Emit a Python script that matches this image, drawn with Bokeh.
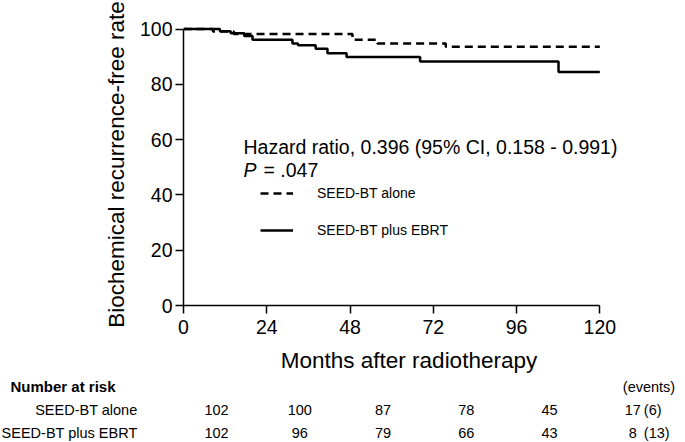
from bokeh.plotting import figure
from bokeh.models import Range1d, FixedTicker, Label, Legend, LegendItem, ColumnDataSource
from bokeh.layouts import column
from bokeh.core.properties import value
from bokeh.embed import file_html
from bokeh.resources import INLINE

# ---- data ----
months_alone = [0, 8.5, 14.5, 48.7, 55.9, 75.6, 120]
surv_alone = [100, 99.1, 98.2, 96.1, 94.8, 93.6, 93.6]
months_ebrt = [0, 10.5, 13.6, 17.5, 19.9, 31.4, 33.0, 38.1, 41.5, 47.0, 68.2, 108.1, 120]
surv_ebrt = [100, 99.2, 98.5, 97.5, 96.1, 94.8, 94.1, 92.9, 91.2, 89.9, 88.3, 84.5, 84.5]

x_ticks = [0, 24, 48, 72, 96, 120]
y_ticks = [0, 20, 40, 60, 80, 100]

risk_times = [0, 24, 48, 72, 96, 120]
risk_alone = [102, 100, 87, 78, 45, 17]
risk_ebrt = [102, 96, 79, 66, 43, 8]
events_alone = "(6)"
events_ebrt = "(13)"
group_names = ["SEED-BT alone", "SEED-BT plus EBRT"]

FONT = "Liberation Sans"

# ---- layout constants ----
W = 685
LEFT, RIGHT, TOP = 183, 51, 23
FRAME_H = 282
MAIN_H = 378
TABLE_H = 442 - MAIN_H
X_END = 130
PXM = (W - LEFT - RIGHT) / X_END  # pixels per month

p = figure(width=W, height=MAIN_H, output_backend="svg", toolbar_location=None,
           x_range=Range1d(0, X_END), y_range=Range1d(0, 102),
           min_border_left=LEFT, min_border_right=RIGHT, min_border_top=TOP,
           min_border_bottom=MAIN_H - TOP - FRAME_H)
p.frame_align = False
p.outline_line_color = None
p.xgrid.visible = False
p.ygrid.visible = False

src_a = ColumnDataSource(dict(x=months_alone, y=surv_alone))
src_e = ColumnDataSource(dict(x=months_ebrt, y=surv_ebrt))
r_a = p.step("x", "y", source=src_a, mode="after", line_color="black", line_width=2.5, line_dash="8 5")
r_e = p.step("x", "y", source=src_e, mode="after", line_color="black", line_width=2.5)

for ax in (p.xaxis[0], p.yaxis[0]):
    ax.axis_line_color = "black"
    ax.axis_line_width = 1.5
    ax.major_tick_line_color = "black"
    ax.major_tick_line_width = 1.5
    ax.major_tick_in = 0
    ax.major_tick_out = 8
    ax.minor_tick_line_color = None
    ax.major_label_text_font = FONT
    ax.major_label_text_font_size = "19.5px"
    ax.major_label_text_color = "black"
    ax.axis_label_text_font = FONT
    ax.axis_label_text_font_style = "normal"
    ax.axis_label_text_color = "black"

p.xaxis.ticker = FixedTicker(ticks=x_ticks)
p.yaxis.ticker = FixedTicker(ticks=y_ticks)
p.xaxis.bounds = (0, 120)
p.yaxis.bounds = (0, 100)
p.xaxis.axis_label = "Months after radiotherapy"
p.yaxis.axis_label = "Biochemical recurrence-free rate"
p.xaxis.axis_label_text_font_size = "22.5px"
p.yaxis.axis_label_text_font_size = "22.5px"
p.xaxis.major_label_standoff = 6
p.yaxis.major_label_standoff = 3
p.xaxis.axis_label_standoff = 11
p.yaxis.axis_label_standoff = 8

# annotation text
p.add_layout(Label(x=0, y=53.5, x_offset=60, text="Hazard ratio, 0.396 (95% CI, 0.158 - 0.991)",
                   text_font=FONT, text_font_size="19.5px", text_color="black"))
p.add_layout(Label(x=0, y=45.2, x_offset=60, text="P", text_font=FONT, text_font_style="italic",
                   text_font_size="19.5px", text_color="black"))
p.add_layout(Label(x=0, y=45.2, x_offset=80, text="= .047",
                   text_font=FONT, text_font_size="19.5px", text_color="black"))

legend = Legend(items=[LegendItem(label=group_names[0], renderers=[r_a]),
                       LegendItem(label=group_names[1], renderers=[r_e])],
                location=(77, 65), glyph_width=33, glyph_height=20, label_height=20,
                spacing=17, label_standoff=24, padding=0, margin=0,
                border_line_color=None, background_fill_alpha=0,
                label_text_font=FONT, label_text_font_size="14px", label_text_color="black")
p.add_layout(legend)

# ---- number at risk table (second figure sharing the month scale) ----
t = figure(width=W, height=TABLE_H, output_backend="svg", toolbar_location=None,
           x_range=Range1d(-LEFT / PXM, (W - LEFT) / PXM), y_range=Range1d(TABLE_H, 0),
           x_axis_location=None, y_axis_location=None,
           min_border=0, min_border_left=0, min_border_right=0, min_border_top=0, min_border_bottom=0)
t.frame_align = False
t.outline_line_color = None
t.xgrid.visible = False
t.ygrid.visible = False

row_y = [8, 31, 54]

# header
t.text(x=[0], y=[row_y[0]], text=["Number at risk"], x_offset=-173, text_font=value(FONT),
       text_font_style="bold", text_font_size=value("15px"), text_baseline="middle",
       text_color="black")
t.text(x=[120], y=[row_y[0]], text=["(events)"], x_offset=23, text_font=value(FONT),
       text_font_size=value("14.5px"), text_baseline="middle", text_color="black")

for name, counts, ev, yy in ((group_names[0], risk_alone, events_alone, row_y[1]),
                             (group_names[1], risk_ebrt, events_ebrt, row_y[2])):
    t.text(x=[0], y=[yy], text=[name], x_offset=-46, text_font=value(FONT),
           text_font_size=value("14.5px"), text_align="right", text_baseline="middle",
           text_color="black")
    src = ColumnDataSource(dict(x=risk_times, y=[yy] * len(risk_times), text=[str(c) for c in counts]))
    t.text(x="x", y="y", text="text", source=src, x_offset=33, text_font=value(FONT),
           text_font_size=value("14.5px"), text_align="center", text_baseline="middle",
           text_color="black")
    t.text(x=[120], y=[yy], text=[ev], x_offset=44, text_font=value(FONT),
           text_font_size=value("14.5px"), text_baseline="middle", text_color="black")

layout = column(p, t, spacing=0)
open("out.html", "w").write(file_html(layout, INLINE))
